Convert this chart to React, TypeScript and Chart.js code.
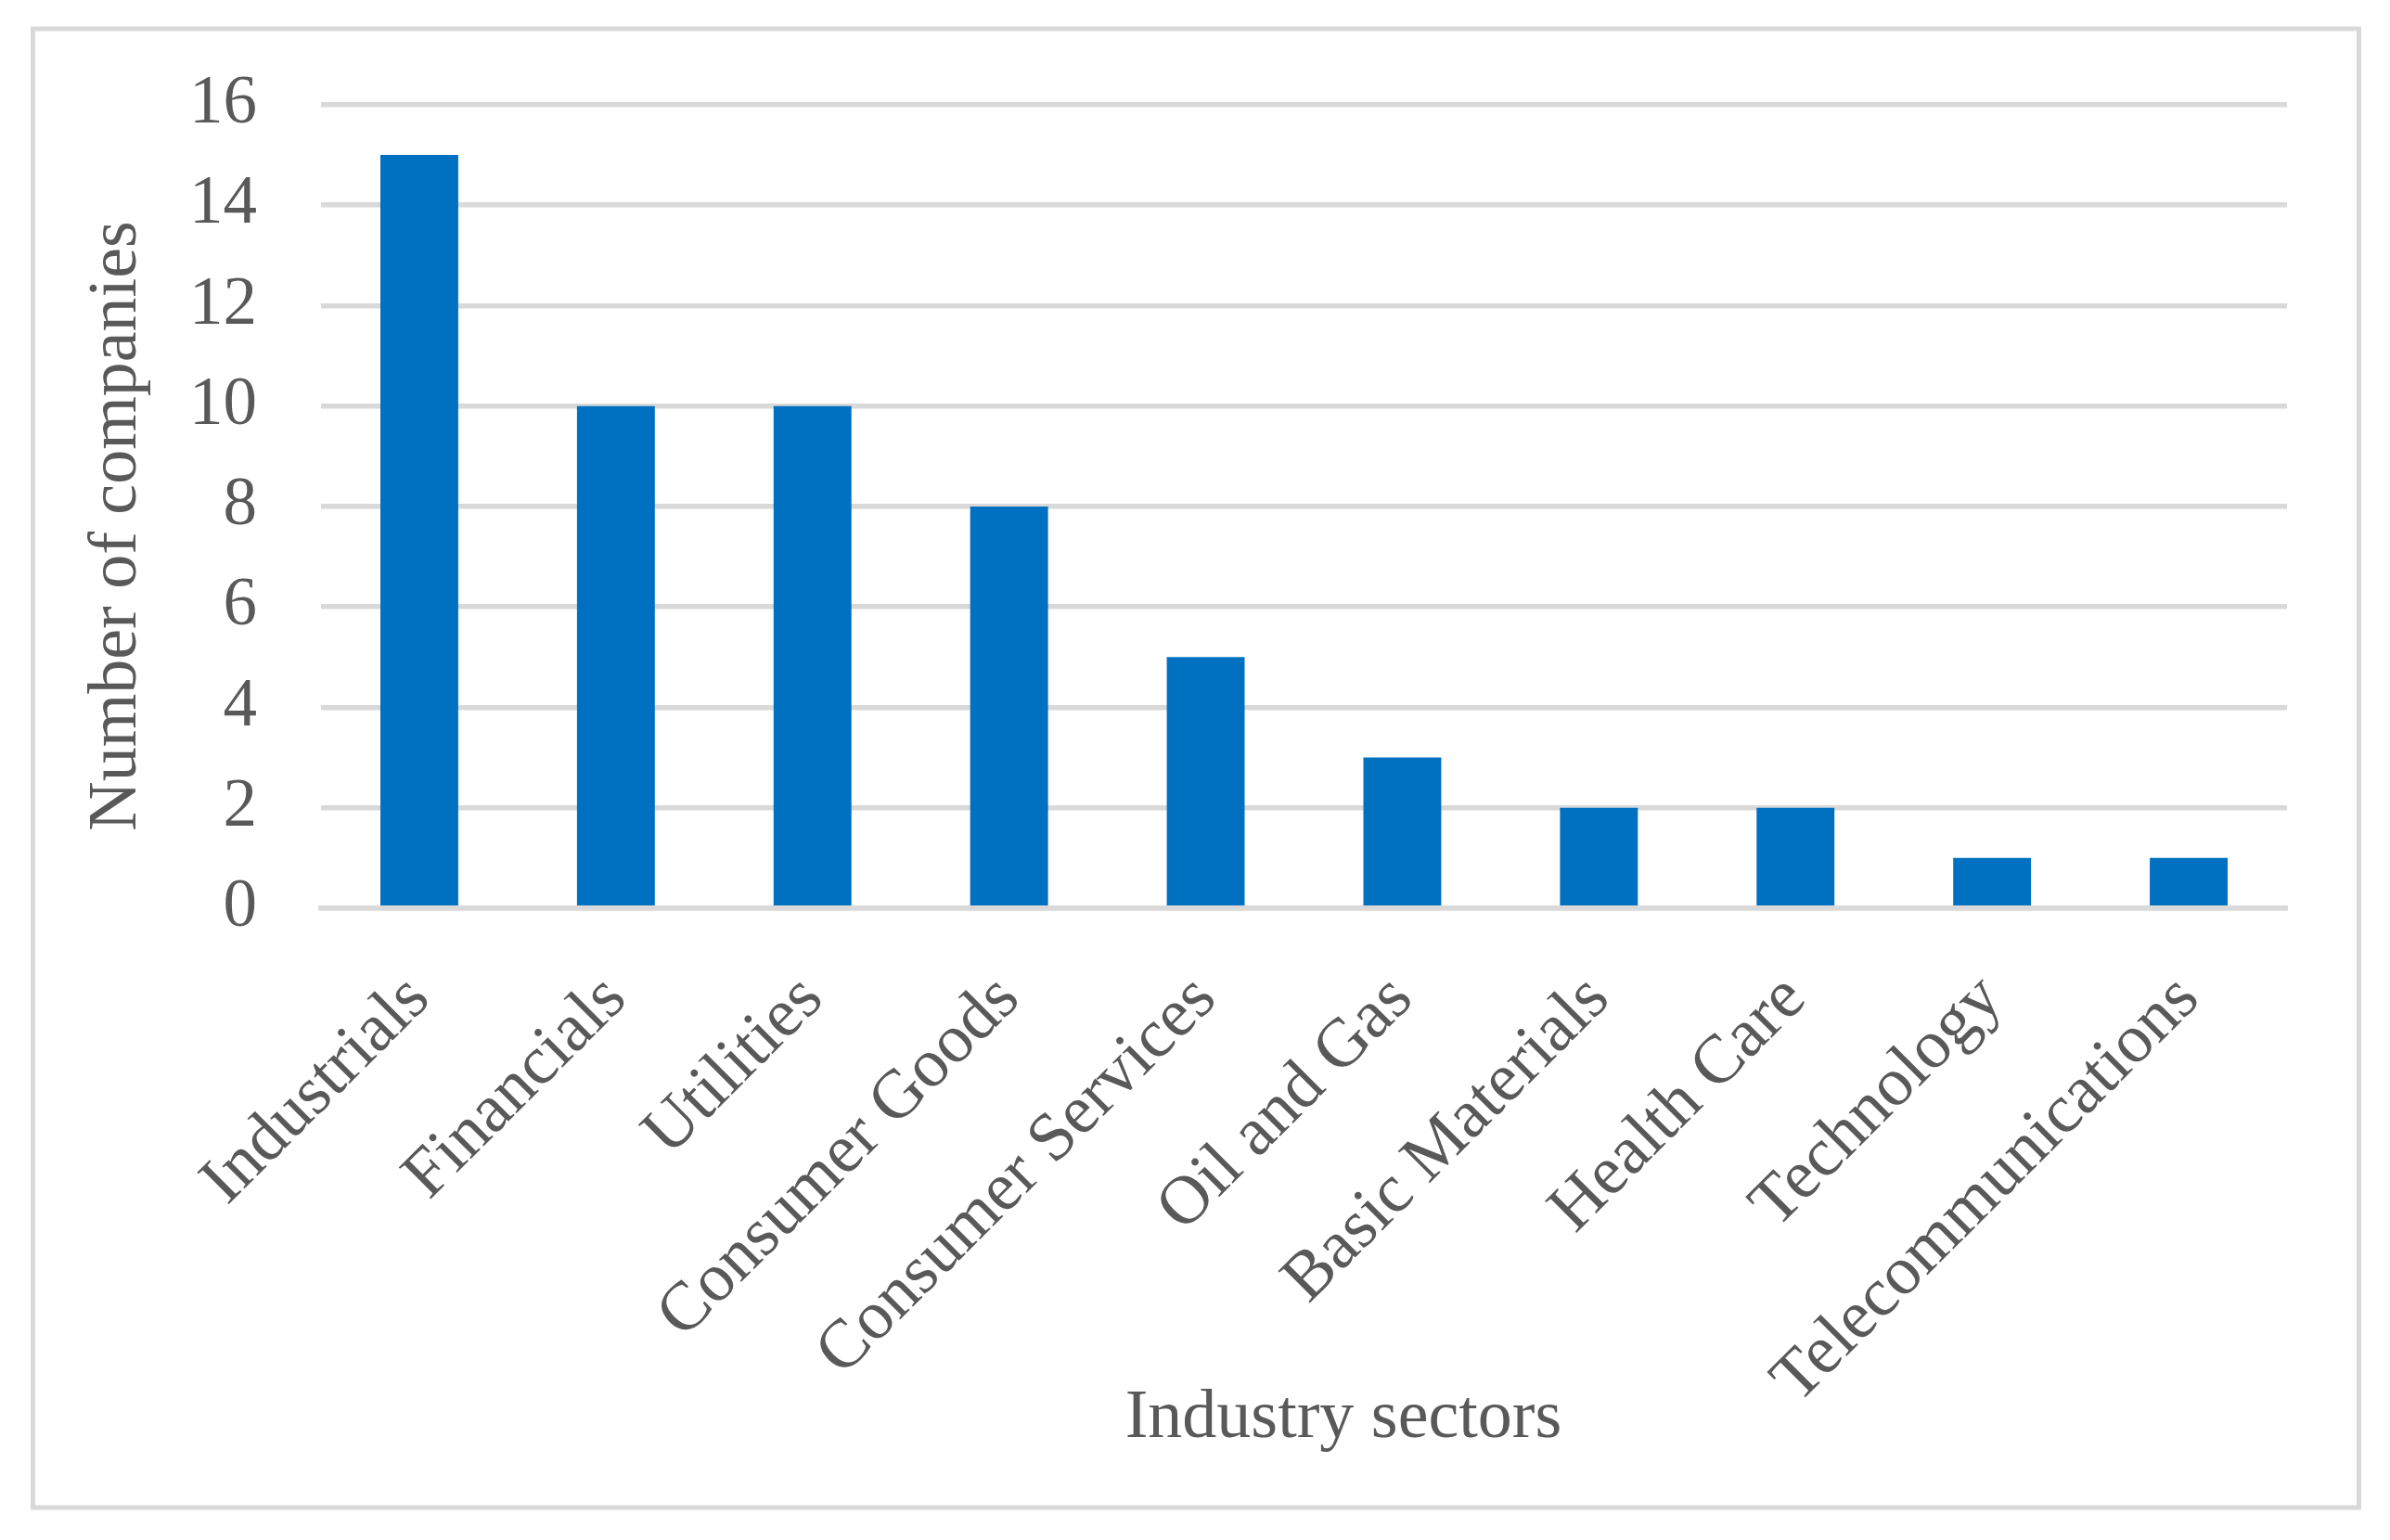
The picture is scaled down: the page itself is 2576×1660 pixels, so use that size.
import React, { useEffect, useRef } from 'react';
import { Chart, registerables } from 'chart.js';

Chart.register(...registerables);

const categories = [
  'Industrials',
  'Financials',
  'Utilities',
  'Consumer Goods',
  'Consumer Services',
  'Oil and Gas',
  'Basic Materials',
  'Health Care',
  'Technology',
  'Telecommunications',
];
const companyCounts = [15, 10, 10, 8, 5, 3, 2, 2, 1, 1];
const yTickValues = [0, 2, 4, 6, 8, 10, 12, 14, 16];
const xAxisTitle = 'Industry sectors';
const yAxisTitle = 'Number of companies';

const W = 2576;
const H = 1660;
const FONT = "'Liberation Serif', 'Times New Roman', serif";
const TEXT = '#595959';
const GRID = '#d9d9d9';
const BAR = '#0070c0';

const framePlugin = {
  id: 'frameAndTitles',
  beforeDraw(chart: any) {
    const ctx = chart.ctx;
    ctx.save();
    ctx.fillStyle = '#ffffff';
    ctx.fillRect(0, 0, chart.width, chart.height);
    ctx.strokeStyle = GRID;
    ctx.lineWidth = 5;
    ctx.strokeRect(35.5, 31, 2507, 1594);
    ctx.restore();
  },
  afterDraw(chart: any) {
    const ctx = chart.ctx;
    ctx.save();
    ctx.fillStyle = TEXT;
    ctx.font = `74px ${FONT}`;
    ctx.textAlign = 'center';
    ctx.textBaseline = 'middle';
    ctx.fillText(xAxisTitle, 1448, 1530);
    ctx.translate(127, 567);
    ctx.rotate(-Math.PI / 2);
    ctx.fillText(yAxisTitle, 0, 0);
    ctx.restore();
  },
};

export default function App() {
  const ref = useRef<HTMLCanvasElement | null>(null);

  useEffect(() => {
    if (!ref.current) return;
    const chart = new Chart(ref.current, {
      type: 'bar',
      data: {
        labels: categories,
        datasets: [
          {
            label: yAxisTitle,
            data: companyCounts,
            backgroundColor: BAR,
            borderWidth: 0,
            categoryPercentage: 1,
            barPercentage: 0.396,
          },
        ],
      },
      options: {
        responsive: false,
        animation: false,
        devicePixelRatio: 1,
        layout: { padding: { left: 0, top: 110, right: 111, bottom: 0 } },
        plugins: {
          legend: { display: false },
          tooltip: { enabled: false },
        },
        scales: {
          x: {
            grid: { display: false, drawTicks: false },
            border: { display: true, color: GRID, width: 5.5, z: 1 },
            ticks: {
              color: TEXT,
              font: { family: FONT, size: 74 },
              minRotation: 45,
              maxRotation: 45,
              autoSkip: false,
              padding: 55,
              labelOffset: 0,
            },
            afterFit: (s: any) => {
              s.height = 681;
            },
          },
          y: {
            min: 0,
            max: 16,
            grid: { color: GRID, lineWidth: 5.5, drawTicks: false },
            border: { display: false },
            ticks: {
              color: TEXT,
              font: { family: FONT, size: 73 },
              padding: 69,
              stepSize: 2,
            },
            afterBuildTicks: (s: any) => {
              s.ticks = yTickValues.map((v) => ({ value: v }));
            },
            afterFit: (s: any) => {
              s.width = 346;
            },
          },
        },
      },
      plugins: [framePlugin],
    });
    return () => chart.destroy();
  }, []);

  return (
    <div style={{ position: 'absolute', left: 0, top: 0, width: W, height: H, background: '#fff' }}>
      <canvas ref={ref} width={W} height={H} style={{ width: W, height: H, display: 'block' }} />
    </div>
  );
}
